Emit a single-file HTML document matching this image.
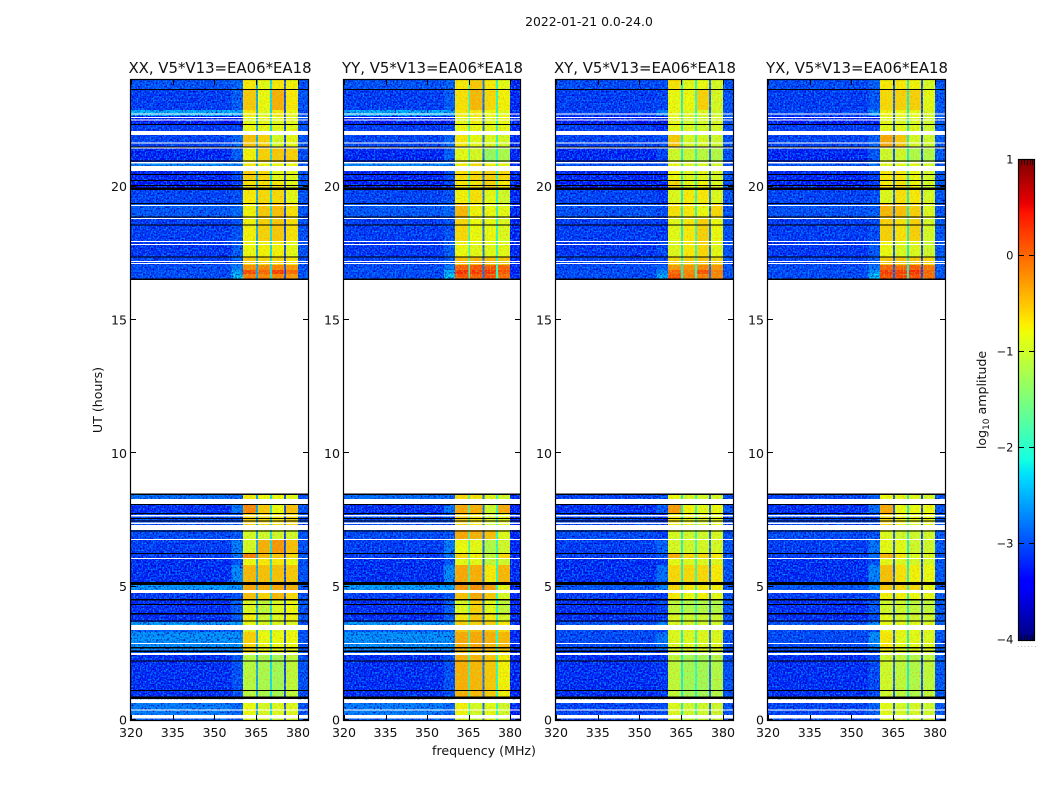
<!DOCTYPE html>
<html lang="en">
<head>
<meta charset="utf-8">
<title>2022-01-21 0.0-24.0</title>
<style>
html,body{margin:0;padding:0;background:#fff;width:1050px;height:800px;overflow:hidden}
svg{display:block;font-family:"DejaVu Sans","Liberation Sans",sans-serif;fill:#000}
text{fill:#111}
</style>
</head>
<body>
<svg id="chart" xmlns="http://www.w3.org/2000/svg" width="1050" height="800" viewBox="0 0 1050 800">
<defs>
<filter id="blue-noise" x="0" y="0" width="100%" height="100%" color-interpolation-filters="sRGB">
<feTurbulence type="fractalNoise" baseFrequency="0.62 0.58" numOctaves="1" seed="7" result="n"/>
<feColorMatrix in="n" type="matrix" values="0 0 0 0 0  0 0 0 0 0  0 0 0 0 .7  3.5 0 0 0 -1.6" result="dark"/>
<feColorMatrix in="n" type="matrix" values="0 0 0 0 0  0 0 0 0 .55  0 0 0 0 1  0 3.5 0 0 -1.55" result="light"/>
<feMerge result="m"><feMergeNode in="dark"/><feMergeNode in="light"/></feMerge>
<feComposite in="m" in2="SourceAlpha" operator="in"/>
</filter>
<filter id="channel-noise" x="0" y="0" width="100%" height="100%" color-interpolation-filters="sRGB">
<feTurbulence type="fractalNoise" baseFrequency="0.62 0.58" numOctaves="1" seed="3" result="n"/>
<feColorMatrix in="n" type="matrix" values="0 0 0 0 1  0 0 0 0 .55  0 0 0 0 0  3 0 0 0 -1.4" result="warm"/>
<feColorMatrix in="n" type="matrix" values="0 0 0 0 .55  0 0 0 0 1  0 0 0 0 .35  0 3 0 0 -1.4" result="cool"/>
<feMerge result="m"><feMergeNode in="warm"/><feMergeNode in="cool"/></feMerge>
<feComposite in="m" in2="SourceAlpha" operator="in"/>
</filter>
</defs>
<text x="589" y="26" font-size="12.4" text-anchor="middle">2022-01-21 0.0-24.0</text>
<text x="102" y="400" font-size="12.6" text-anchor="middle" transform="rotate(-90 102 400)">UT (hours)</text>
<text x="484" y="755" font-size="12.6" text-anchor="middle">frequency (MHz)</text>
<text x="986" y="400" font-size="12.6" text-anchor="middle" transform="rotate(-90 986 400)">log<tspan font-size="9" dy="3">10</tspan><tspan dy="-3"> amplitude</tspan></text>
<text x="1017" y="647" font-size="7" letter-spacing="1.2" style="fill:#999">......</text>
</svg>
<script>
// Axis labels
const freqTicks = [320, 335, 350, 365, 380];
const utTicks = [0, 5, 10, 15, 20];
const colorbarTicks = [1, 0, -1, -2, -3, -4];
const panelNames = ['XX', 'YY', 'XY', 'YX'];
const panelTitles = ['XX, V5*V13=EA06*EA18', 'YY, V5*V13=EA06*EA18', 'XY, V5*V13=EA06*EA18', 'YX, V5*V13=EA06*EA18'];

// Frequency segment edges (MHz): background, ramp, ch1, gap, ch2, gap, ch3, gap, ch4, upper band
const freqEdges = [320, 356.2, 360.2, 364.9, 365.6, 370, 370.7, 375, 375.7, 380, 383.6];

// Time rows: UT hours at upper and lower edge of each row
const rowTop = [24, 23.625, 22.875, 22.65, 22.35, 21.94, 21.49, 20.89, 20.59, 20.25, 19.88, 19.37, 18.86, 17.96, 17.36, 17.06, 16.875, 16.725,
  8.49, 8.10, 7.725, 7.125, 6.79, 6.26, 6.075, 5.81, 5.10, 4.76, 4.5, 4.01, 3.675, 3.375, 3.3, 2.625, 2.44, 0.64, 0.06];
const rowBottom = [23.625, 22.875, 22.65, 22.35, 22.09, 21.49, 20.89, 20.78, 20.25, 19.88, 19.37, 18.86, 17.96, 17.36, 17.06, 16.875, 16.725, 16.5,
  8.29, 7.725, 7.31, 6.79, 6.26, 6.075, 5.81, 5.10, 4.875, 4.5, 4.01, 3.675, 3.56, 3.3, 2.625, 2.51, 0.86, 0.19, 0];

// log10 amplitude by row: off-band background for parallel and cross hands, and band-edge ramp
const parallelBackground = [-3.0, -3.15, -2.35, -3.45, -3.15, -3.1, -3.3, -2.6, -3.3, -3.35, -3.1, -2.95, -3.15, -3.2, -3.1, -3.05, -3.05, -3.05,
  -2.8, -3.25, -3.05, -3.05, -3.15, -3.15, -3.25, -3.25, -2.5, -3.15, -3.25, -3.25, -2.5, -2.9, -2.55, -2.9, -3.25, -2.7, -2.9];
const crossBackground = [-3.05, -3.15, -3.1, -3.45, -3.15, -3.1, -3.3, -3.0, -3.3, -3.35, -3.1, -3.0, -3.15, -3.2, -3.1, -3.05, -3.05, -3.05,
  -3.1, -3.25, -3.1, -3.05, -3.15, -3.15, -3.25, -3.25, -3.0, -3.15, -3.25, -3.25, -3.0, -3.05, -3.05, -3.1, -3.25, -3.1, -3.1];
const rowRamp = [-2.85, -2.9, -2.45, -3.4, -3.1, -2.85, -2.9, -2.7, -3.05, -3.15, -3, -2.85, -3, -2.9, -2.85, -2.7, -2.4, -2.2,
  -2.85, -2.75, -3, -2.95, -2.7, -2.75, -3, -2.6, -2.5, -3, -2.9, -2.95, -2.5, -2.9, -2.55, -3, -3, -2.85, -3];
const panelRampOffset = [0, 0, -0.2, -0.05];

// Four bright channels by row, per polarisation
const xxChannels = [[-.7,-.85,-.7,-.75],[-.5,-.8,-.35,-.7],[-.7,-.85,-.7,-.8],[-.85,-.85,-.85,-.85],[-.8,-.85,-.85,-.85],[-.45,-.55,-.95,-.85],[-.75,-.55,-.5,-.55],[-.7,-.8,-.8,-.8],[-.55,-.6,-.85,-.85],[-.65,-.65,-.7,-.85],[-.7,-.6,-.6,-.85],[-.75,-.5,-.45,-.65],[-.75,-.55,-.5,-.65],[-.8,-.75,-.75,-.85],[-.55,-.6,-.6,-.7],[-.15,-.1,-.1,-.2],[.25,.1,.3,.05],[-.05,-.1,-.1,-.2],
  [-.7,-.8,-.8,-.85],[-.1,-.5,-.8,-.45],[-.55,-.6,-.7,-.6],[-.95,-1,-1,-1],[-.95,-.35,-.2,-.45],[-.05,-.4,-.5,-.6],[-.8,-.7,-.7,-.8],[-.4,-.45,-.45,-.5],[-.3,-.35,-.3,-.35],[-.45,-.55,-.4,-.6],[-.9,-1.1,-.9,-.8],[-.75,-1,-.9,-.75],[-.85,-.9,-.9,-.9],[-.9,-.9,-.9,-.9],[-.55,-.8,-.8,-.8],[-.6,-.85,-.85,-.9],[-1.15,-1.25,-1.3,-1.1],[-.8,-.95,-.9,-.9],[-.9,-.95,-.95,-.95]];
const yyChannels = [[-.7,-.5,-.7,-.85],[-.65,-.4,-.6,-.75],[-.7,-.7,-.8,-.85],[-.85,-.75,-.85,-.8],[-.8,-.8,-.85,-.85],[-.7,-.85,-.9,-.95],[-.85,-.95,-1.4,-1.25],[-.75,-.6,-.75,-.85],[-.65,-.6,-.55,-.6],[-.7,-.65,-.55,-.7],[-.75,-.65,-.85,-1],[-.4,-.75,-.8,-.85],[-.6,-.8,-.8,-.9],[-.8,-.85,-.85,-.85],[-.45,-.4,-.45,-.5],[.15,.2,.2,.1],[.4,.35,.35,.2],[.2,.15,.2,.05],
  [-.6,-.65,-.9,-1],[-.3,-.35,-1,-.3],[-.55,-.7,-.95,-.85],[-.3,-.35,-.45,-.9],[-.8,-.85,-1.2,-1],[-.6,-.75,-1.1,-.6],[-.85,-.85,-1.1,-1],[-.3,-.35,-.7,-.4],[-.2,-.15,-.25,-.85],[-.45,-.3,-.5,-.95],[-.9,-.55,-.85,-1.1],[-.7,-.5,-.7,-.95],[-.55,-.55,-.55,-.7],[-.5,-.45,-.5,-.6],[-.3,-.3,-.35,-.4],[-.5,-.5,-.6,-.65],[-.35,-.4,-.5,-.75],[-.75,-.95,-.85,-1],[-.9,-1,-.9,-1]];
const xyChannels = [[-.65,-.85,-.8,-.95],[-.8,-.8,-.55,-.95],[-.8,-.9,-.9,-1],[-.85,-.95,-.95,-.95],[-.85,-.9,-.95,-.95],[-.5,-.95,-.95,-1],[-1,-1.05,-1.15,-1.2],[-.85,-.9,-.9,-.95],[-.8,-.9,-.85,-.95],[-.6,-.85,-.75,-.9],[-.9,-.7,-.7,-.9],[-.65,-.7,-.8,-.6],[-.85,-.7,-.55,-.8],[-.9,-.7,-.6,-.85],[-.6,-.55,-.5,-.6],[-.2,-.2,-.1,-.2],[.1,-.1,.2,-.05],[.2,-.05,-.05,-.1],
  [-.8,-.95,-.95,-.95],[-.2,-.75,-.85,-.8],[-.7,-.8,-.9,-.85],[-.95,-1,-1,-.95],[-.95,-1,-.95,-.95],[-.35,-.6,-.6,-.7],[-.85,-.9,-.9,-.9],[-.6,-.6,-.6,-.7],[-.6,-.7,-.7,-.75],[-.7,-.8,-.75,-.85],[-1.1,-1.2,-1.2,-1.2],[-.9,-1,-1,-1],[-.9,-.95,-.95,-.95],[-.9,-.95,-.95,-.95],[-.9,-.9,-.9,-.9],[-.95,-.95,-.95,-1],[-1.1,-1.3,-1.3,-1.2],[-.9,-1,-1,-1],[-.95,-1,-1,-1]];
const yxChannels = [[-.7,-.7,-.75,-.95],[-.6,-.55,-.55,-.85],[-.75,-.8,-.8,-.95],[-.85,-.9,-.9,-1],[-.85,-.85,-.9,-1],[-.3,-.5,-.95,-1],[-1,-1,-1.2,-1.2],[-.85,-.85,-.85,-.95],[-.7,-.7,-.8,-.95],[-.7,-.65,-.75,-.95],[-.9,-.65,-.7,-.95],[-.4,-.45,-.55,-.9],[-.55,-.65,-.55,-.95],[-.8,-.9,-.9,-1],[-.5,-.5,-.5,-.6],[.1,.1,.15,0],[.35,.3,.4,.1],[.25,.25,.25,.05],
  [-.8,-.85,-.9,-.95],[-.3,-.8,-.8,-.8],[-.6,-.75,-.85,-.85],[-.9,-1,-1,-1],[-.85,-.85,-1,-1],[-.4,-.7,-.9,-.9],[-.85,-.9,-.95,-.95],[-.45,-.65,-.75,-.8],[-.5,-.6,-.6,-.8],[-.75,-.75,-.8,-.85],[-1,-1,-1.1,-1.1],[-.85,-.95,-1,-1],[-.8,-.85,-.85,-.9],[-.8,-.85,-.85,-.9],[-.7,-.85,-.85,-.9],[-.85,-.9,-.9,-.95],[-1,-1.1,-1.2,-1.1],[-.85,-.95,-.95,-1],[-.9,-.95,-.95,-1]];

// Narrow gaps between channels and the band above 380 MHz
const xxGaps = [-2.6, -2.3, -3.1];
const yyGaps = [-2.1, -2.9, -2.1];
const xyGaps = [-2.2, -2.1, -2.9];
const yxGaps = [-3.0, -2.2, -3.1];
const upperBand = [-3.0, -3.3, -3.0, -2.95];

// Flagged time ranges [upper UT, lower UT]
const blankBands = [[22.74,22.70],[22.61,22.575],[22.52,22.48],[22.09,21.94],[21.66,21.62],[21.47,21.43],[20.93,20.87],[20.78,20.59],[19.31,19.28],[18.83,18.79],[17.96,17.93],[17.85,17.81],[17.21,17.18],[17.14,17.10],
  [8.29,8.10],[7.69,7.63],[7.41,7.35],[7.31,7.125],[6.79,6.75],[6.075,6.04],[4.875,4.76],[3.56,3.375],[2.89,2.85],[2.51,2.44],[0.76,0.64],[0.39,0.36],[0.19,0.06]];
const blackBands = [[23.66,23.62],[22.35,22.31],[21.51,21.47],[20.98,20.94],[20.48,20.44],[20.25,20.21],[20.06,20.02],[19.97,19.87],[19.39,19.35],[18.88,18.84],[18.59,18.55],[17.38,17.34],[16.56,16.5],
  [8.49,8.44],[8.10,8.06],[7.76,7.72],[7.58,7.54],[7.48,7.44],[7.11,7.07],[6.27,6.23],[5.17,5.06],[4.53,4.49],[4.35,4.31],[4.01,3.96],[3.73,3.69],[2.73,2.69],[2.61,2.55],[2.23,2.19],[1.13,1.09],[0.89,0.79]];

const allBackgrounds = [parallelBackground, parallelBackground, crossBackground, crossBackground];
const allChannels = [xxChannels, yyChannels, xyChannels, yxChannels];
const allGaps = [xxGaps, yyGaps, xyGaps, yxGaps];
const panelLeft = [131, 344, 556, 768];
const panelWidth = [177, 176, 177, 177];
const svgNS = 'http://www.w3.org/2000/svg';
const svg = document.getElementById('chart');
const FREQ_MIN = 320, FREQ_MAX = 383.6, UT_MAX = 24, TOP = 80, BOTTOM = 720;
const CB_X = 1019, CB_W = 15, CB_TOP = 160, CB_BOTTOM = 640;

function yScale(ut) { return BOTTOM - ut / UT_MAX * (BOTTOM - TOP); }
function xScale(panel, f) { return panelLeft[panel] + (f - FREQ_MIN) / (FREQ_MAX - FREQ_MIN) * panelWidth[panel]; }
function cbScale(v) { return CB_BOTTOM - (v + 4) / 5 * (CB_BOTTOM - CB_TOP); }
function interp(t, stops) {
  for (let i = 1; i < stops.length; i++) {
    if (t <= stops[i][0]) {
      const a = stops[i - 1], b = stops[i];
      return a[1] + (b[1] - a[1]) * (t - a[0]) / (b[0] - a[0]);
    }
  }
  return stops[stops.length - 1][1];
}
function jet(v) {
  const t = Math.max(0, Math.min(1, (v + 4) / 5));
  const r = interp(t, [[0, 0], [.35, 0], [.66, 1], [.89, 1], [1, .5]]);
  const g = interp(t, [[0, 0], [.125, 0], [.375, 1], [.64, 1], [.91, 0], [1, 0]]);
  const b = interp(t, [[0, .5], [.11, 1], [.34, 1], [.65, 0], [1, 0]]);
  return 'rgb(' + Math.round(r * 255) + ',' + Math.round(g * 255) + ',' + Math.round(b * 255) + ')';
}
function make(tag, parent, attrs) {
  const el = document.createElementNS(svgNS, tag);
  for (const k in attrs) el.setAttribute(k, attrs[k]);
  parent.appendChild(el);
  return el;
}

panelNames.forEach(function (name, p) {
  const g = make('g', svg, { 'shape-rendering': 'crispEdges' });
  
  

  rowTop.forEach(function (top, r) {
    const y0 = yScale(top), y1 = yScale(rowBottom[r]);
    const ch = allChannels[p][r], gaps = allGaps[p];
    const values = [allBackgrounds[p][r], rowRamp[r] + panelRampOffset[p], ch[0], gaps[0], ch[1], gaps[1], ch[2], gaps[2], ch[3], upperBand[p]];
    values.forEach(function (v, s) {
      const x0 = xScale(p, freqEdges[s]), x1 = xScale(p, freqEdges[s + 1]);
      const cell = make('rect', g, { x: x0, y: y0, width: x1 - x0, height: y1 - y0, fill: jet(v) });
      
      
    });
  });

  // Decorative noise grain over the two observing blocks (not data-bearing)
  [[yScale(24), yScale(16.5)], [yScale(8.49), yScale(0)]].forEach(function (block) {
    const xa = xScale(p, 320), xb = xScale(p, 360.2), xc = xScale(p, 380), xd = xScale(p, 383.6);
    const n1 = make('rect', g, { x: xa, y: block[0], width: xb - xa, height: block[1] - block[0], fill: '#000', filter: 'url(#blue-noise)' });
    
    
    const n2 = make('rect', g, { x: xc, y: block[0], width: xd - xc, height: block[1] - block[0], fill: '#000', filter: 'url(#blue-noise)' });
    
    
    const n3 = make('rect', g, { x: xb, y: block[0], width: xc - xb, height: block[1] - block[0], fill: '#000', opacity: .55, filter: 'url(#channel-noise)' });
    
    
  });

  blankBands.forEach(function (b) {
    const band = make('rect', g, { x: panelLeft[p], y: yScale(b[0]), width: panelWidth[p], height: yScale(b[1]) - yScale(b[0]), fill: '#fff' });
    
    
  });
  blackBands.forEach(function (b) {
    const band = make('rect', g, { x: panelLeft[p], y: yScale(b[0]), width: panelWidth[p], height: Math.max(1, yScale(b[1]) - yScale(b[0])), fill: '#000' });
    
    
  });

  const L = panelLeft[p], R = L + panelWidth[p];
  freqTicks.forEach(function (f) {
    const x = Math.round(xScale(p, f)) + .5;
    const t1 = make('line', g, { x1: x, x2: x, y1: BOTTOM, y2: BOTTOM - 5, stroke: '#000' });
    
    
    const t2 = make('line', g, { x1: x, x2: x, y1: TOP, y2: TOP + 5, stroke: '#000' });
    
    
    const label = make('text', svg, { x: xScale(p, f), y: 737, 'font-size': 12.6, 'text-anchor': 'middle' });
    label.textContent = String(f);
    
    
  });
  utTicks.forEach(function (u) {
    const y = Math.round(yScale(u)) - .5;
    const t1 = make('line', g, { x1: L, x2: L + 5, y1: y, y2: y, stroke: '#000' });
    
    
    const t2 = make('line', g, { x1: R, x2: R - 5, y1: y, y2: y, stroke: '#000' });
    
    
    const label = make('text', svg, { x: L - 4, y: yScale(u) + 4.5, 'font-size': 12.6, 'text-anchor': 'end' });
    label.textContent = String(u);
    
    
  });

  const frame = make('rect', svg, { x: L - .5, y: TOP - .5, width: panelWidth[p] + 1, height: BOTTOM - TOP + 1, fill: 'none', stroke: '#000', 'stroke-width': 1.2 });
  
  

  const title = make('text', svg, { x: L + panelWidth[p] / 2 + 0.5, y: 73, 'font-size': 14.9, 'text-anchor': 'middle' });
  title.textContent = panelTitles[p];
  
  
});

// Colorbar
const cb = make('g', svg, { 'shape-rendering': 'crispEdges' });


for (let py = CB_TOP; py < CB_BOTTOM; py += 2) {
  const v = 1 - (py + 1 - CB_TOP) / (CB_BOTTOM - CB_TOP) * 5;
  const seg = make('rect', cb, { x: CB_X, y: py, width: CB_W, height: 2, fill: jet(v) });
  
  
}
[2, 5, 8, 11, 13].forEach(function (dx) {
  const a = make('line', cb, { x1: CB_X + dx + .5, x2: CB_X + dx + .5, y1: CB_TOP, y2: CB_TOP + 5, stroke: '#000', 'stroke-opacity': .7 });
  
  
  const b = make('line', cb, { x1: CB_X + dx + .5, x2: CB_X + dx + .5, y1: CB_BOTTOM - 5, y2: CB_BOTTOM, stroke: '#000', 'stroke-opacity': .7 });
  
  
});
colorbarTicks.forEach(function (v) {
  const y = Math.round(cbScale(v)) - .5;
  if (v > -4 && v < 1) {
    const a = make('line', cb, { x1: CB_X, x2: CB_X + 5, y1: y, y2: y, stroke: '#000' });
    
    
    const b = make('line', cb, { x1: CB_X + CB_W - 5, x2: CB_X + CB_W, y1: y, y2: y, stroke: '#000' });
    
    
  }
  const label = make('text', svg, { x: 1013.5, y: cbScale(v) + 3.5, 'font-size': 11.5, 'text-anchor': 'end' });
  label.textContent = v < 0 ? '\u2212' + Math.abs(v) : String(v);
  
  
});
const cbFrame = make('rect', svg, { x: CB_X - .5, y: CB_TOP - .5, width: CB_W + 1, height: CB_BOTTOM - CB_TOP + 1, fill: 'none', stroke: '#000', 'stroke-width': 1.2 });


</script>
</body>
</html>
